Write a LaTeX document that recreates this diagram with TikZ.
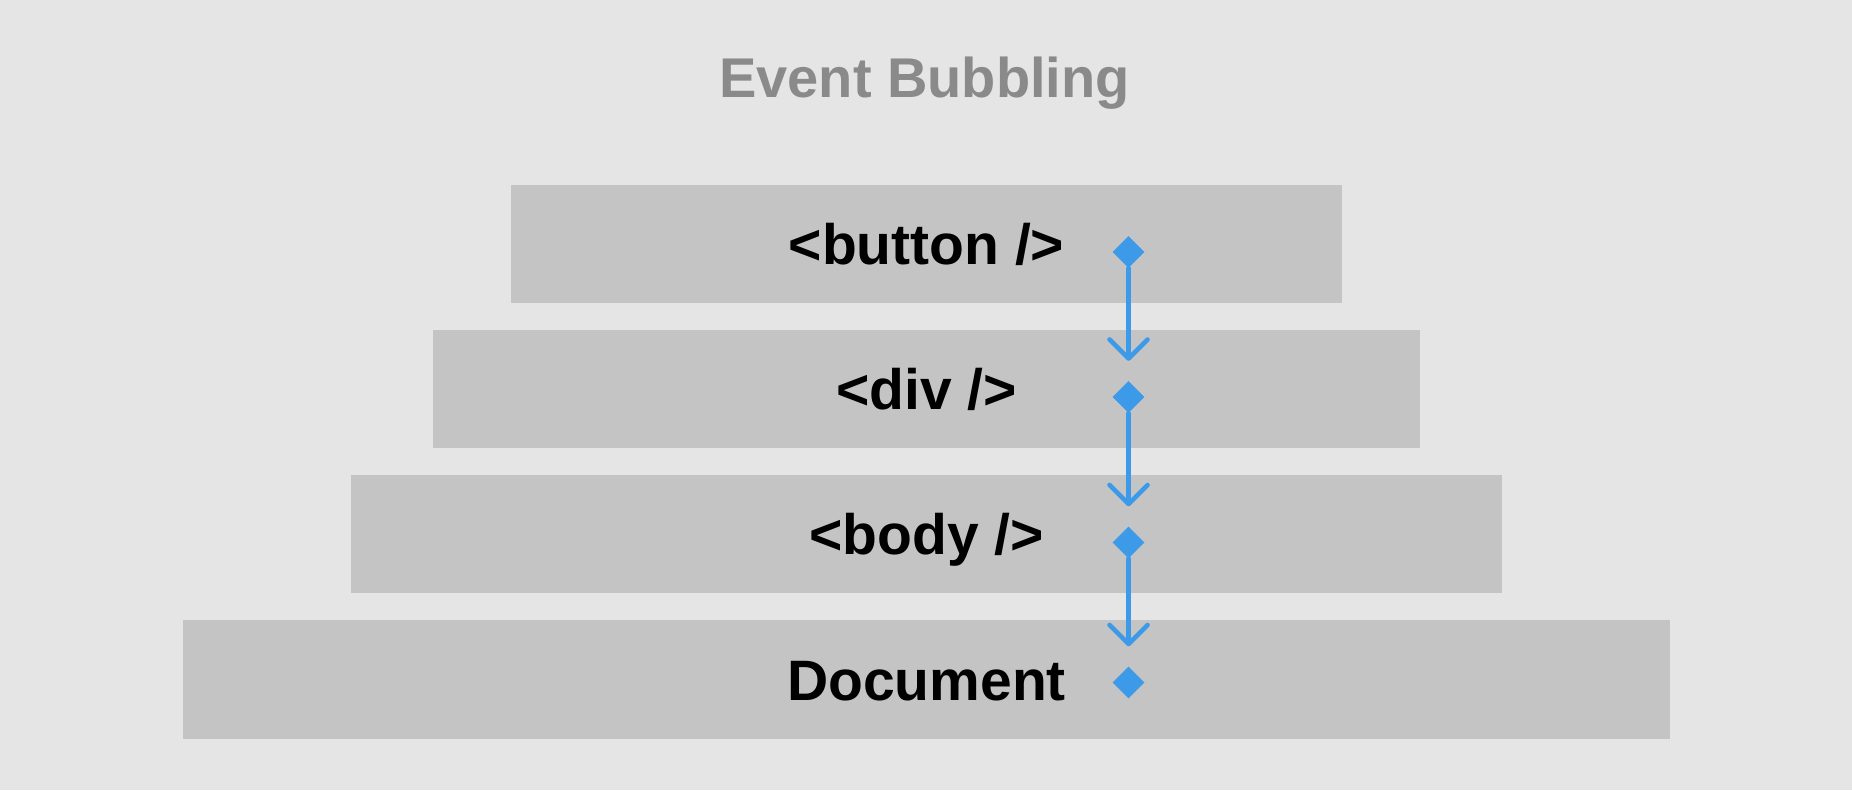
\documentclass[tikz,border=0pt]{standalone}
\usepackage{fontspec}
\setmainfont{Liberation Sans}
\usetikzlibrary{arrows.meta,shapes.geometric}
\definecolor{bggray}{HTML}{E5E5E5}
\definecolor{boxgray}{HTML}{C4C4C4}
\definecolor{titlegray}{HTML}{8A8A8A}
\definecolor{eventblue}{HTML}{3D9AE9}

\begin{document}
\begin{tikzpicture}[x=1pt, y=1pt,
    layer/.style={rectangle, fill=boxgray, inner sep=0pt, minimum height=118pt,
      text height=45pt, text depth=4pt, font=\fontsize{57}{58}\selectfont\bfseries},
    hook/.style={diamond, fill=eventblue, inner sep=0pt, minimum width=32pt, minimum height=32pt},
    bubble/.style={-{Straight Barb[length=19pt, width=38pt, round]}, line width=4.6pt,
      eventblue, line cap=round, shorten >=20pt}]
        % Background
        \fill[bggray] (0,0) rectangle (1852,790);

        % Title
        \node[anchor=base, text=titlegray, font=\fontsize{56}{58}\selectfont\bfseries] (title) at (924.5,692) {Event Bubbling};

        % Layers
        \node[layer, minimum width=831pt] (button) at (926.5,546) {<button />};
        \node[layer, minimum width=987pt] (div) at (926.5,400.5) {<div />};
        \node[layer, minimum width=1151pt] (body) at (926.5,255.5) {<body />};
        \node[layer, minimum width=1487pt] (doc) at (926.5,110.5) {Document};

        % Handlers
        \node[hook] (buttonhook) at (1128.5,538) {};
        \node[hook] (divhook) at (1128.5,393) {};
        \node[hook] (bodyhook) at (1128.5,247.5) {};
        \node[hook] (dochook) at (1128.5,107.5) {};

        % Arrows
        \draw[bubble] (buttonhook) -- (divhook);
        \draw[bubble] (divhook) -- (bodyhook);
        \draw[bubble] (bodyhook) -- (dochook);

      \end{tikzpicture}
\end{document}
